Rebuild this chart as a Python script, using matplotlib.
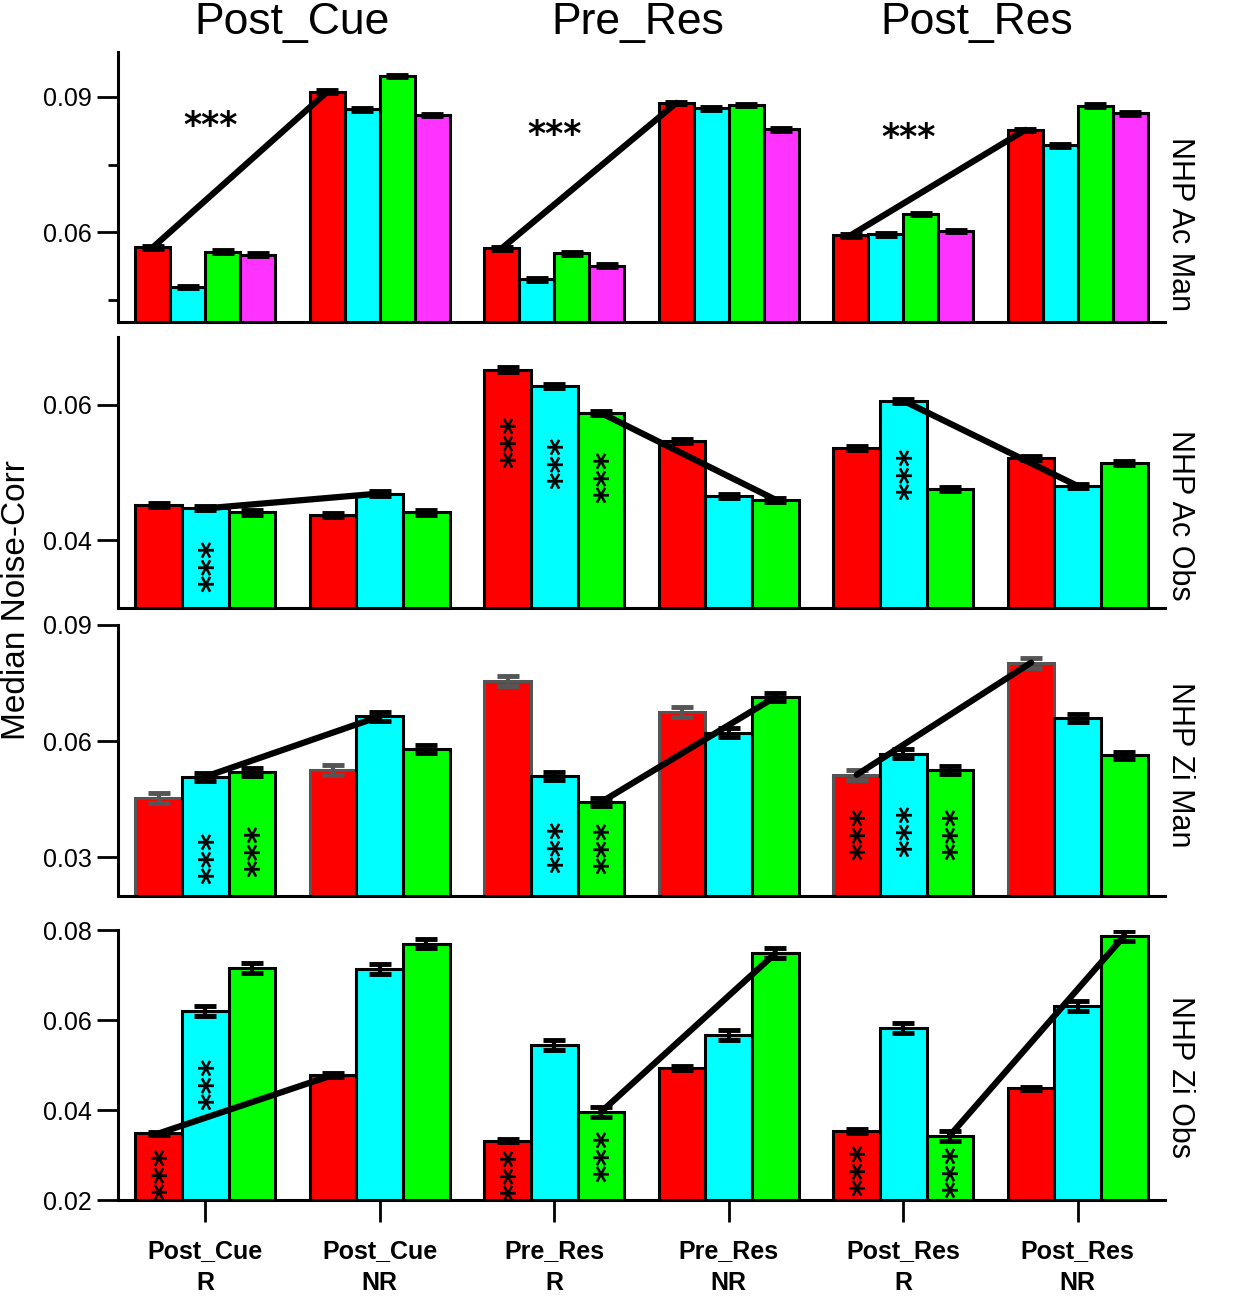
import matplotlib
matplotlib.use('Agg')
import matplotlib.pyplot as plt
import numpy as np

plt.rcParams['font.family'] = ['Liberation Sans', 'DejaVu Sans']

groups = ['Post_Cue\nR', 'Post_Cue\nNR', 'Pre_Res\nR', 'Pre_Res\nNR', 'Post_Res\nR', 'Post_Res\nNR']
epochs = ['Post_Cue', 'Pre_Res', 'Post_Res']
rows = ['NHP Ac Man', 'NHP Ac Obs', 'NHP Zi Man', 'NHP Zi Obs']
colors4 = ['#ff0000', '#00ffff', '#00ff00', '#ff33ff']

# NHP Ac Man (red, cyan, green, magenta)
ac_man = [
    [0.0566, 0.0912, 0.0564, 0.0887, 0.0593, 0.0827],
    [0.0478, 0.0873, 0.0495, 0.0875, 0.0595, 0.0793],
    [0.0556, 0.0947, 0.0553, 0.0882, 0.0640, 0.0881],
    [0.0550, 0.0860, 0.0525, 0.0828, 0.0602, 0.0864],
]
ac_man_err = [0.0003, 0.0003, 0.0003, 0.0003]

# NHP Ac Obs (red, cyan, green)
ac_obs = [
    [0.0452, 0.0437, 0.0652, 0.0546, 0.0536, 0.0521],
    [0.0447, 0.0469, 0.0628, 0.0466, 0.0606, 0.0480],
    [0.0441, 0.0441, 0.0588, 0.0460, 0.0476, 0.0514],
]
ac_obs_err = [0.0003, 0.0003, 0.0003]

# NHP Zi Man
zi_man = [
    [0.0454, 0.0525, 0.0756, 0.0675, 0.0513, 0.0803],
    [0.0508, 0.0664, 0.0510, 0.0622, 0.0568, 0.0660],
    [0.0520, 0.0580, 0.0442, 0.0714, 0.0525, 0.0563],
]
zi_man_err = [0.0013, 0.0011, 0.0010]

# NHP Zi Obs
zi_obs = [
    [0.0348, 0.0478, 0.0332, 0.0493, 0.0353, 0.0448],
    [0.0620, 0.0713, 0.0544, 0.0567, 0.0582, 0.0631],
    [0.0716, 0.0770, 0.0395, 0.0748, 0.0343, 0.0787],
]
zi_obs_err = [0.0004, 0.0011, 0.0011]

panels = [ac_man, ac_obs, zi_man, zi_obs]
panel_err = [ac_man_err, ac_obs_err, zi_man_err, zi_obs_err]
# red bars of Zi Man have grey outlines
edge_cols = [['k'] * 4, ['k'] * 3, ['#555555', 'k', 'k'], ['k'] * 3]

ylims = [(0.04, 0.10), (0.03, 0.07), (0.02, 0.09), (0.02, 0.08)]
yticks = [[0.06, 0.09], [0.04, 0.06], [0.03, 0.06, 0.09], [0.02, 0.04, 0.06, 0.08]]

# connecting lines: (series, group_from, group_to)
links = [
    [(0, 0, 1), (0, 2, 3), (0, 4, 5)],
    [(1, 0, 1), (2, 2, 3), (1, 4, 5)],
    [(1, 0, 1), (2, 2, 3), (0, 4, 5)],
    [(0, 0, 1), (2, 2, 3), (2, 4, 5)],
]

# horizontal stars in top panel: (x, y)
top_stars = [(0.03, 0.0853), (2.0, 0.0835), (4.03, 0.0828)]
# vertical stars inside bars: (series, group, y)
bar_stars = [
    [],
    [(1, 0, 0.0363), (0, 2, 0.0545), (1, 2, 0.0515), (2, 2, 0.0494), (1, 4, 0.0498)],
    [(1, 0, 0.0300), (2, 0, 0.0316), (1, 2, 0.0328), (2, 2, 0.0324),
     (0, 4, 0.0360), (1, 4, 0.0369), (2, 4, 0.0360)],
    [(0, 0, 0.0258), (1, 0, 0.0458), (0, 2, 0.0256), (2, 2, 0.0298),
     (0, 4, 0.0267), (2, 4, 0.0263)],
]

title_x = [0.5, 2.48, 4.42]
row_label_y = [0.363, 0.343, 0.483, 0.456]

fig = plt.figure(figsize=(12.33, 13), dpi=100)
L, W = 118 / 1233, 1047 / 1233
boxes = [(52, 322), (337, 608), (625, 896), (930, 1200)]
xg = np.arange(6)

for p, vals in enumerate(panels):
    top, bot = boxes[p]
    ax = fig.add_axes([L, 1 - bot / 1300, W, (bot - top) / 1300])
    n = len(vals)
    w = 0.8 / n
    xs = []
    for i in range(n):
        x = xg + (i - (n - 1) / 2) * w
        xs.append(x)
        ec = edge_cols[p][i]
        ax.bar(x, vals[i], w, color=colors4[i], edgecolor=ec, linewidth=2.2,
               yerr=panel_err[p][i], capsize=8,
               error_kw=dict(ecolor=ec, elinewidth=3, capthick=3.5), zorder=2)
    for s, g0, g1 in links[p]:
        ax.plot([xs[s][g0], xs[s][g1]], [vals[s][g0], vals[s][g1]], color='k',
                lw=4.5, zorder=4, solid_capstyle='round')
    for s, g, y in bar_stars[p]:
        ax.annotate('***', (xs[s][g], y), xytext=(6, 0), textcoords='offset points',
                    rotation=90, ha='center', va='center', fontsize=24,
                    family='DejaVu Sans', fontweight='bold', zorder=5)
    if p == 0:
        for x, y in top_stars:
            ax.annotate('***', (x, y), xytext=(0, -6), textcoords='offset points',
                        ha='center', va='center', fontsize=25,
                        family='DejaVu Sans', fontweight='bold')
        for k, name in enumerate(epochs):
            ax.annotate(name, (title_x[k], 1.0), xycoords=('data', 'axes fraction'),
                        xytext=(0, 21), textcoords='offset points',
                        ha='center', va='center', fontsize=32)

    ax.set_xlim(-0.5, 5.5)
    ax.set_ylim(*ylims[p])
    ax.set_yticks(yticks[p])
    ax.set_yticklabels(['%.2f' % t for t in yticks[p]])
    if p == 0:
        ax.set_yticks([0.045, 0.075], minor=True)
        ax.tick_params(axis='y', which='minor', length=7, width=2)
    ax.tick_params(axis='y', which='major', length=15, width=2, labelsize=18, pad=4)
    for side in ['top', 'right']:
        ax.spines[side].set_visible(False)
    for side in ['left', 'bottom']:
        ax.spines[side].set_linewidth(2.2)
    if p < 3:
        ax.set_xticks([])
    else:
        ax.set_xticks(xg)
        ax.set_xticklabels(groups, fontsize=18, fontweight='bold', linespacing=1.45)
        ax.tick_params(axis='x', length=16, width=2, pad=12)
    ax.text(1.014, row_label_y[p], rows[p], rotation=270, transform=ax.transAxes,
            ha='center', va='center', fontsize=22)

fig.text(0.013, 1 - 600 / 1300, 'Median Noise-Corr', rotation=90, ha='center', va='center', fontsize=24)

fig.savefig('out.png', dpi=100)
